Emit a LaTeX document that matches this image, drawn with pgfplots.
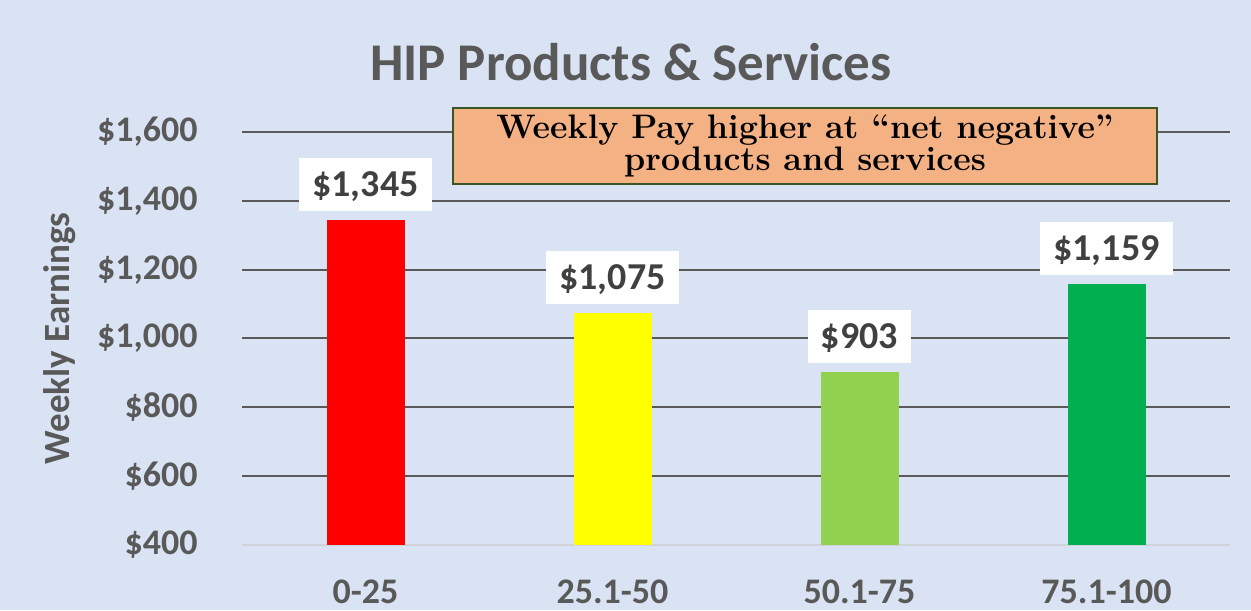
\documentclass[border=0pt]{standalone}
\usepackage{pgfplots}
\pgfplotsset{compat=1.18}
\usepackage{fontspec}
\newfontfamily\calfont{Carlito}
\definecolor{bg}{HTML}{DAE3F3}
\definecolor{txt}{HTML}{595959}
\definecolor{lbl}{HTML}{404040}
\definecolor{grd}{HTML}{595959}
\definecolor{lgrid}{HTML}{D0D3DA}
\definecolor{anno}{HTML}{F4B183}
\definecolor{annob}{HTML}{385723}
\definecolor{lgreen}{HTML}{92D050}
\definecolor{dgreen}{HTML}{00B050}
\definecolor{yel}{HTML}{FFFF00}
\begin{document}
\begin{tikzpicture}
\fill[bg] (0,0) rectangle (625.5pt,305pt);
\begin{axis}[
 at={(121pt,32.5pt)}, anchor=south west,
 scale only axis, width=494pt, height=206.5pt,
 xmin=-0.5, xmax=3.5, ymin=400, ymax=1600,
 xtick={0,1,2,3}, xticklabels={0-25,25.1-50,50.1-75,75.1-100},
 ytick={600,800,1000,1200,1400,1600},
 yticklabels={{\$600},{\$800},{\$1,000},{\$1,200},{\$1,400},{\$1,600}},
 extra y ticks={400}, extra y tick labels={{\$400}},
 extra y tick style={grid style={color=lgrid, line width=1.2pt}},
 ymajorgrids, grid style={grd, line width=1pt},
 axis line style={draw=none},
 major tick length=0pt,
 tick label style={font=\calfont\bfseries\fontsize{18}{20}\selectfont, text=txt},
 yticklabel style={inner sep=0pt, xshift=-22pt},
 xticklabel style={inner sep=0pt, yshift=-17pt},
 ylabel={Weekly Earnings},
 every axis y label/.style={at={(axis description cs:-0.1842,0.5)}, rotate=90, anchor=center, font=\calfont\bfseries\fontsize{18.5}{20}\selectfont, text=txt},
 ybar, bar width=39pt, bar shift=0pt,
 nodes near coords, point meta=explicit symbolic,
 every node near coord/.append style={font=\calfont\bfseries\fontsize{19}{20}\selectfont, text=lbl, fill=white, inner xsep=6.5pt, inner ysep=0pt, text height=19pt, text depth=7.5pt, yshift=4pt},
 clip=false,
]
\addplot[fill=red, draw=none] coordinates {(0,1345) [\$1{,}345]};
\addplot[fill=yel, draw=none] coordinates {(1,1075) [\$1{,}075]};
\addplot[fill=lgreen, draw=none] coordinates {(2,903) [\$903]};
\addplot[fill=dgreen, draw=none] coordinates {(3,1159) [\$1{,}159]};
\end{axis}
\node[font=\calfont\bfseries\fontsize{26.5}{30}\selectfont, text=txt] at (315.5pt,274pt) {HIP Products \& Services};
\node[fill=anno, draw=annob, line width=0.75pt, minimum width=352pt, minimum height=38pt, inner sep=0pt, align=center, font=\bfseries\fontsize{17}{13.5}\selectfont] at (402.5pt,232pt) {Weekly Pay higher at “net negative”\\products and services};
\pgfresetboundingbox
\useasboundingbox (0,0) rectangle (625.5pt,305pt);
\end{tikzpicture}
\end{document}
